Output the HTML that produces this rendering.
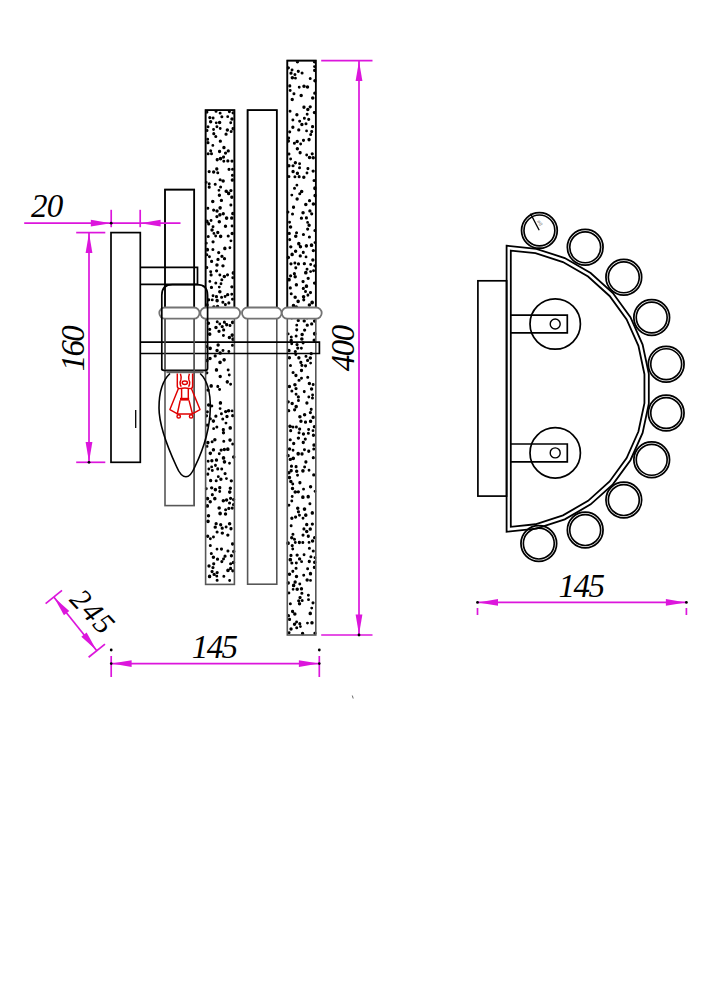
<!DOCTYPE html><html><head><meta charset="utf-8"><style>html,body{margin:0;padding:0;background:#fff;width:707px;height:1000px;overflow:hidden;position:relative}</style></head><body><svg width="707" height="1000" viewBox="0 0 707 1000" style="position:absolute;left:0;top:0">
<rect width="707" height="1000" fill="#fff"/>
<path d="M208.83 418.69a1.53 1.53 0 1 0 3.06 0a1.53 1.53 0 1 0 -3.06 0zM219.56 283.77a1.43 1.43 0 1 0 2.86 0a1.43 1.43 0 1 0 -2.86 0zM218.78 128.54a1.42 1.42 0 1 0 2.85 0a1.42 1.42 0 1 0 -2.85 0zM206.55 153.71a1.57 1.57 0 1 0 3.15 0a1.57 1.57 0 1 0 -3.15 0zM227.45 169.36a1.57 1.57 0 1 0 3.14 0a1.57 1.57 0 1 0 -3.14 0zM222.03 559.07a1.49 1.49 0 1 0 2.98 0a1.49 1.49 0 1 0 -2.98 0zM215.52 572.57a1.63 1.63 0 1 0 3.26 0a1.63 1.63 0 1 0 -3.26 0zM228.48 247.79a1.42 1.42 0 1 0 2.84 0a1.42 1.42 0 1 0 -2.84 0zM207.99 256.71a1.46 1.46 0 1 0 2.92 0a1.46 1.46 0 1 0 -2.92 0zM209.46 385.9a1.73 1.73 0 1 0 3.45 0a1.73 1.73 0 1 0 -3.45 0zM214.82 369.88a1.66 1.66 0 1 0 3.31 0a1.66 1.66 0 1 0 -3.31 0zM206.42 208.22a1.43 1.43 0 1 0 2.85 0a1.43 1.43 0 1 0 -2.85 0zM216.33 259.39a1.67 1.67 0 1 0 3.34 0a1.67 1.67 0 1 0 -3.34 0zM217.07 252.59a1.63 1.63 0 1 0 3.27 0a1.63 1.63 0 1 0 -3.27 0zM223.77 226.26a1.72 1.72 0 1 0 3.44 0a1.72 1.72 0 1 0 -3.44 0zM219.07 524.74a1.63 1.63 0 1 0 3.26 0a1.63 1.63 0 1 0 -3.26 0zM212.46 574.42a1.69 1.69 0 1 0 3.38 0a1.69 1.69 0 1 0 -3.38 0zM216.29 468.93a1.45 1.45 0 1 0 2.89 0a1.45 1.45 0 1 0 -2.89 0zM225.63 381.84a1.67 1.67 0 1 0 3.33 0a1.67 1.67 0 1 0 -3.33 0zM213.11 439.67a1.75 1.75 0 1 0 3.5 0a1.75 1.75 0 1 0 -3.5 0zM220.57 326.59a1.64 1.64 0 1 0 3.28 0a1.64 1.64 0 1 0 -3.28 0zM230.54 335.05a1.74 1.74 0 1 0 3.47 0a1.74 1.74 0 1 0 -3.47 0zM206.21 442.61a1.67 1.67 0 1 0 3.33 0a1.67 1.67 0 1 0 -3.33 0zM231.95 499.57a1.66 1.66 0 1 0 3.32 0a1.66 1.66 0 1 0 -3.32 0zM215.33 427.07a1.51 1.51 0 1 0 3.03 0a1.51 1.51 0 1 0 -3.03 0zM217.53 190.29a1.41 1.41 0 1 0 2.82 0a1.41 1.41 0 1 0 -2.82 0zM206.38 474.17a1.45 1.45 0 1 0 2.89 0a1.45 1.45 0 1 0 -2.89 0zM211.58 295.72a1.45 1.45 0 1 0 2.9 0a1.45 1.45 0 1 0 -2.9 0zM206.68 323.27a1.75 1.75 0 1 0 3.5 0a1.75 1.75 0 1 0 -3.5 0zM228.96 498.32a1.62 1.62 0 1 0 3.24 0a1.62 1.62 0 1 0 -3.24 0zM212.14 307.24a1.75 1.75 0 1 0 3.49 0a1.75 1.75 0 1 0 -3.49 0zM229.06 563.81a1.54 1.54 0 1 0 3.09 0a1.54 1.54 0 1 0 -3.09 0zM209.6 220.52a1.46 1.46 0 1 0 2.92 0a1.46 1.46 0 1 0 -2.92 0zM218.09 389.46a1.49 1.49 0 1 0 2.99 0a1.49 1.49 0 1 0 -2.99 0zM204.81 308.96a1.51 1.51 0 1 0 3.01 0a1.51 1.51 0 1 0 -3.01 0zM220.28 561.62a1.55 1.55 0 1 0 3.1 0a1.55 1.55 0 1 0 -3.1 0zM218.75 402.92a1.68 1.68 0 1 0 3.35 0a1.68 1.68 0 1 0 -3.35 0zM206.02 536.28a1.67 1.67 0 1 0 3.34 0a1.67 1.67 0 1 0 -3.34 0zM228.62 488.19a1.71 1.71 0 1 0 3.42 0a1.71 1.71 0 1 0 -3.42 0zM215.65 159.77a1.56 1.56 0 1 0 3.11 0a1.56 1.56 0 1 0 -3.11 0zM206.26 142.66a1.65 1.65 0 1 0 3.31 0a1.65 1.65 0 1 0 -3.31 0zM209.2 271.65a1.48 1.48 0 1 0 2.97 0a1.48 1.48 0 1 0 -2.97 0zM204.79 182.35a1.42 1.42 0 1 0 2.84 0a1.42 1.42 0 1 0 -2.84 0zM214.8 122.86a1.44 1.44 0 1 0 2.88 0a1.44 1.44 0 1 0 -2.88 0zM221.4 181.06a1.75 1.75 0 1 0 3.5 0a1.75 1.75 0 1 0 -3.5 0zM214.29 283.05a1.5 1.5 0 1 0 3 0a1.5 1.5 0 1 0 -3 0zM228.18 580.54a1.45 1.45 0 1 0 2.9 0a1.45 1.45 0 1 0 -2.9 0zM217.97 151.42a1.59 1.59 0 1 0 3.17 0a1.59 1.59 0 1 0 -3.17 0zM214.22 236.03a1.44 1.44 0 1 0 2.88 0a1.44 1.44 0 1 0 -2.88 0zM208.92 121.72a1.73 1.73 0 1 0 3.46 0a1.73 1.73 0 1 0 -3.46 0zM205.33 360.6a1.62 1.62 0 1 0 3.23 0a1.62 1.62 0 1 0 -3.23 0zM228.24 440.1a1.79 1.79 0 1 0 3.58 0a1.79 1.79 0 1 0 -3.58 0zM219.19 479.29a1.71 1.71 0 1 0 3.42 0a1.71 1.71 0 1 0 -3.42 0zM210.82 494.64a1.53 1.53 0 1 0 3.06 0a1.53 1.53 0 1 0 -3.06 0zM227.94 492.08a1.79 1.79 0 1 0 3.59 0a1.79 1.79 0 1 0 -3.59 0zM224.89 218.05a1.73 1.73 0 1 0 3.45 0a1.73 1.73 0 1 0 -3.45 0zM212.5 233.39a1.41 1.41 0 1 0 2.82 0a1.41 1.41 0 1 0 -2.82 0zM230.92 322.34a1.68 1.68 0 1 0 3.35 0a1.68 1.68 0 1 0 -3.35 0zM231.7 562.52a1.77 1.77 0 1 0 3.55 0a1.77 1.77 0 1 0 -3.55 0zM210.36 405.98a1.48 1.48 0 1 0 2.96 0a1.48 1.48 0 1 0 -2.96 0zM227.64 337.59a1.76 1.76 0 1 0 3.52 0a1.76 1.76 0 1 0 -3.52 0zM226.61 150.9a1.66 1.66 0 1 0 3.32 0a1.66 1.66 0 1 0 -3.32 0zM229.65 480.83a1.66 1.66 0 1 0 3.33 0a1.66 1.66 0 1 0 -3.33 0zM217.69 195.24a1.7 1.7 0 1 0 3.4 0a1.7 1.7 0 1 0 -3.4 0zM213.66 489.59a1.72 1.72 0 1 0 3.43 0a1.72 1.72 0 1 0 -3.43 0zM215.34 300.66a1.79 1.79 0 1 0 3.58 0a1.79 1.79 0 1 0 -3.58 0zM224.43 191.21a1.78 1.78 0 1 0 3.56 0a1.78 1.78 0 1 0 -3.56 0zM208.92 538.8a1.45 1.45 0 1 0 2.9 0a1.45 1.45 0 1 0 -2.9 0zM208.51 501.74a1.72 1.72 0 1 0 3.45 0a1.72 1.72 0 1 0 -3.45 0zM222.55 276.54a1.79 1.79 0 1 0 3.58 0a1.79 1.79 0 1 0 -3.58 0zM208.2 117.54a1.62 1.62 0 1 0 3.24 0a1.62 1.62 0 1 0 -3.24 0zM222.34 359.87a1.79 1.79 0 1 0 3.58 0a1.79 1.79 0 1 0 -3.58 0zM210.29 229.92a1.73 1.73 0 1 0 3.46 0a1.73 1.73 0 1 0 -3.46 0zM216.26 172.8a1.5 1.5 0 1 0 3.01 0a1.5 1.5 0 1 0 -3.01 0zM214.2 327.51a1.76 1.76 0 1 0 3.53 0a1.76 1.76 0 1 0 -3.53 0zM229.53 309.76a1.63 1.63 0 1 0 3.27 0a1.63 1.63 0 1 0 -3.27 0zM218.28 362.35a1.77 1.77 0 1 0 3.53 0a1.77 1.77 0 1 0 -3.53 0zM205.11 318.98a1.61 1.61 0 1 0 3.22 0a1.61 1.61 0 1 0 -3.22 0zM204.84 488.81a1.47 1.47 0 1 0 2.95 0a1.47 1.47 0 1 0 -2.95 0zM217.8 453.82a1.47 1.47 0 1 0 2.94 0a1.47 1.47 0 1 0 -2.94 0zM213.57 355.98a1.62 1.62 0 1 0 3.25 0a1.62 1.62 0 1 0 -3.25 0zM226.22 160.99a1.62 1.62 0 1 0 3.24 0a1.62 1.62 0 1 0 -3.24 0zM211.43 241.78a1.62 1.62 0 1 0 3.25 0a1.62 1.62 0 1 0 -3.25 0zM218.5 376.5a1.71 1.71 0 1 0 3.42 0a1.71 1.71 0 1 0 -3.42 0zM218.51 353.05a1.65 1.65 0 1 0 3.29 0a1.65 1.65 0 1 0 -3.29 0zM230.45 233.59a1.75 1.75 0 1 0 3.5 0a1.75 1.75 0 1 0 -3.5 0zM230.61 508.12a1.62 1.62 0 1 0 3.25 0a1.62 1.62 0 1 0 -3.25 0zM211.41 145.39a1.43 1.43 0 1 0 2.86 0a1.43 1.43 0 1 0 -2.86 0zM226.17 535.09a1.67 1.67 0 1 0 3.34 0a1.67 1.67 0 1 0 -3.34 0zM224.5 423.1a1.46 1.46 0 1 0 2.92 0a1.46 1.46 0 1 0 -2.92 0zM229.11 568.45a1.46 1.46 0 1 0 2.91 0a1.46 1.46 0 1 0 -2.91 0zM231 299.18a1.49 1.49 0 1 0 2.98 0a1.49 1.49 0 1 0 -2.98 0zM231.93 504.55a1.59 1.59 0 1 0 3.19 0a1.59 1.59 0 1 0 -3.19 0zM210.07 261.46a1.54 1.54 0 1 0 3.07 0a1.54 1.54 0 1 0 -3.07 0zM205.05 372.87a1.69 1.69 0 1 0 3.38 0a1.69 1.69 0 1 0 -3.38 0zM205.12 267.6a1.58 1.58 0 1 0 3.15 0a1.58 1.58 0 1 0 -3.15 0zM218.69 141.21a1.65 1.65 0 1 0 3.3 0a1.65 1.65 0 1 0 -3.3 0zM226.16 570.41a1.79 1.79 0 1 0 3.59 0a1.79 1.79 0 1 0 -3.59 0zM212.09 129.53a1.44 1.44 0 1 0 2.88 0a1.44 1.44 0 1 0 -2.88 0zM211.95 172.08a1.71 1.71 0 1 0 3.42 0a1.71 1.71 0 1 0 -3.42 0zM208.82 545.57a1.5 1.5 0 1 0 3.01 0a1.5 1.5 0 1 0 -3.01 0zM223.9 153.12a1.63 1.63 0 1 0 3.26 0a1.63 1.63 0 1 0 -3.26 0zM223.77 311.97a1.42 1.42 0 1 0 2.85 0a1.42 1.42 0 1 0 -2.85 0zM230.67 410.89a1.43 1.43 0 1 0 2.86 0a1.43 1.43 0 1 0 -2.86 0zM206.79 515.8a1.72 1.72 0 1 0 3.44 0a1.72 1.72 0 1 0 -3.44 0zM228.59 325.43a1.43 1.43 0 1 0 2.85 0a1.43 1.43 0 1 0 -2.85 0zM219.93 549.11a1.54 1.54 0 1 0 3.07 0a1.54 1.54 0 1 0 -3.07 0zM207.73 187.17a1.5 1.5 0 1 0 2.99 0a1.5 1.5 0 1 0 -2.99 0zM209.51 274.93a1.6 1.6 0 1 0 3.2 0a1.6 1.6 0 1 0 -3.2 0zM211.71 118.06a1.41 1.41 0 1 0 2.81 0a1.41 1.41 0 1 0 -2.81 0zM219.72 200.41a1.69 1.69 0 1 0 3.39 0a1.69 1.69 0 1 0 -3.39 0zM230.41 161.07a1.59 1.59 0 1 0 3.18 0a1.59 1.59 0 1 0 -3.18 0zM216.4 344.94a1.73 1.73 0 1 0 3.46 0a1.73 1.73 0 1 0 -3.46 0zM215.32 350.46a1.73 1.73 0 1 0 3.47 0a1.73 1.73 0 1 0 -3.47 0zM231.64 272.9a1.68 1.68 0 1 0 3.35 0a1.68 1.68 0 1 0 -3.35 0zM223.97 411.62a1.73 1.73 0 1 0 3.47 0a1.73 1.73 0 1 0 -3.47 0zM214.23 136.53a1.56 1.56 0 1 0 3.12 0a1.56 1.56 0 1 0 -3.12 0zM206.7 461.24a1.45 1.45 0 1 0 2.9 0a1.45 1.45 0 1 0 -2.9 0zM209.2 150.76a1.5 1.5 0 1 0 3 0a1.5 1.5 0 1 0 -3 0zM228.49 427.97a1.74 1.74 0 1 0 3.47 0a1.74 1.74 0 1 0 -3.47 0zM211.37 249.42a1.51 1.51 0 1 0 3.03 0a1.51 1.51 0 1 0 -3.03 0zM231.24 570.85a1.51 1.51 0 1 0 3.01 0a1.51 1.51 0 1 0 -3.01 0zM211.33 567.56a1.62 1.62 0 1 0 3.24 0a1.62 1.62 0 1 0 -3.24 0zM214.52 111.31a1.52 1.52 0 1 0 3.05 0a1.52 1.52 0 1 0 -3.05 0zM218.65 113.14a1.48 1.48 0 1 0 2.96 0a1.48 1.48 0 1 0 -2.96 0zM207.17 299.77a1.51 1.51 0 1 0 3.01 0a1.51 1.51 0 1 0 -3.01 0zM205.4 254.71a1.42 1.42 0 1 0 2.83 0a1.42 1.42 0 1 0 -2.83 0zM222.65 449.46a1.7 1.7 0 1 0 3.4 0a1.7 1.7 0 1 0 -3.4 0zM215.2 265.06a1.75 1.75 0 1 0 3.5 0a1.75 1.75 0 1 0 -3.5 0zM208.53 453.33a1.79 1.79 0 1 0 3.59 0a1.79 1.79 0 1 0 -3.59 0zM205.75 505.89a1.66 1.66 0 1 0 3.31 0a1.66 1.66 0 1 0 -3.31 0zM221.76 457.91a1.76 1.76 0 1 0 3.51 0a1.76 1.76 0 1 0 -3.51 0zM208.32 358.54a1.72 1.72 0 1 0 3.45 0a1.72 1.72 0 1 0 -3.45 0zM220.59 533.11a1.73 1.73 0 1 0 3.46 0a1.73 1.73 0 1 0 -3.46 0zM208.46 281.41a1.41 1.41 0 1 0 2.82 0a1.41 1.41 0 1 0 -2.82 0zM227.83 374.98a1.44 1.44 0 1 0 2.88 0a1.44 1.44 0 1 0 -2.88 0zM221.83 432.75a1.65 1.65 0 1 0 3.3 0a1.65 1.65 0 1 0 -3.3 0zM206.75 236.41a1.5 1.5 0 1 0 3 0a1.5 1.5 0 1 0 -3 0zM210.17 460.74a1.69 1.69 0 1 0 3.38 0a1.69 1.69 0 1 0 -3.38 0zM218.04 291.75a1.79 1.79 0 1 0 3.58 0a1.79 1.79 0 1 0 -3.58 0zM223.48 473.58a1.59 1.59 0 1 0 3.18 0a1.59 1.59 0 1 0 -3.18 0zM222.29 147.44a1.65 1.65 0 1 0 3.29 0a1.65 1.65 0 1 0 -3.29 0zM220.35 116.7a1.52 1.52 0 1 0 3.04 0a1.52 1.52 0 1 0 -3.04 0zM212.19 428.66a1.42 1.42 0 1 0 2.85 0a1.42 1.42 0 1 0 -2.85 0zM223.17 248.38a1.68 1.68 0 1 0 3.35 0a1.68 1.68 0 1 0 -3.35 0zM217.42 331.38a1.61 1.61 0 1 0 3.21 0a1.61 1.61 0 1 0 -3.21 0zM229.42 205.05a1.45 1.45 0 1 0 2.89 0a1.45 1.45 0 1 0 -2.89 0zM230.25 119.08a1.79 1.79 0 1 0 3.58 0a1.79 1.79 0 1 0 -3.58 0zM212.04 210.05a1.58 1.58 0 1 0 3.16 0a1.58 1.58 0 1 0 -3.16 0zM227.38 351.44a1.45 1.45 0 1 0 2.91 0a1.45 1.45 0 1 0 -2.91 0zM217.86 122.55a1.76 1.76 0 1 0 3.52 0a1.76 1.76 0 1 0 -3.52 0zM218.37 324.01a1.4 1.4 0 1 0 2.8 0a1.4 1.4 0 1 0 -2.8 0zM227.86 111.62a1.53 1.53 0 1 0 3.05 0a1.53 1.53 0 1 0 -3.05 0zM214.96 296.64a1.52 1.52 0 1 0 3.03 0a1.52 1.52 0 1 0 -3.03 0zM212.22 133.63a1.57 1.57 0 1 0 3.14 0a1.57 1.57 0 1 0 -3.14 0zM209.84 287.39a1.6 1.6 0 1 0 3.21 0a1.6 1.6 0 1 0 -3.21 0zM229.76 555.75a1.65 1.65 0 1 0 3.3 0a1.65 1.65 0 1 0 -3.3 0zM224.44 134.2a1.62 1.62 0 1 0 3.24 0a1.62 1.62 0 1 0 -3.24 0zM207.94 334.14a1.77 1.77 0 1 0 3.54 0a1.77 1.77 0 1 0 -3.54 0zM211.59 421.09a1.79 1.79 0 1 0 3.58 0a1.79 1.79 0 1 0 -3.58 0zM220.06 297.34a1.52 1.52 0 1 0 3.04 0a1.52 1.52 0 1 0 -3.04 0zM218.16 214.87a1.76 1.76 0 1 0 3.52 0a1.76 1.76 0 1 0 -3.52 0zM210.05 153.71a1.46 1.46 0 1 0 2.91 0a1.46 1.46 0 1 0 -2.91 0zM207.18 223.91a1.54 1.54 0 1 0 3.07 0a1.54 1.54 0 1 0 -3.07 0zM215.89 306.57a1.7 1.7 0 1 0 3.4 0a1.7 1.7 0 1 0 -3.4 0zM214.99 270.77a1.61 1.61 0 1 0 3.22 0a1.61 1.61 0 1 0 -3.22 0zM218.64 408.61a1.45 1.45 0 1 0 2.9 0a1.45 1.45 0 1 0 -2.9 0zM215.73 321.69a1.5 1.5 0 1 0 3 0a1.5 1.5 0 1 0 -3 0zM227.84 523.68a1.78 1.78 0 1 0 3.56 0a1.78 1.78 0 1 0 -3.56 0zM205.68 446.4a1.41 1.41 0 1 0 2.82 0a1.41 1.41 0 1 0 -2.82 0zM215.61 549.19a1.4 1.4 0 1 0 2.8 0a1.4 1.4 0 1 0 -2.8 0zM207.71 183.82a1.5 1.5 0 1 0 3 0a1.5 1.5 0 1 0 -3 0zM223.42 556.13a1.61 1.61 0 1 0 3.22 0a1.61 1.61 0 1 0 -3.22 0zM222.26 441.23a1.5 1.5 0 1 0 3 0a1.5 1.5 0 1 0 -3 0zM215.28 216.55a1.63 1.63 0 1 0 3.27 0a1.63 1.63 0 1 0 -3.27 0zM231.08 415.68a1.58 1.58 0 1 0 3.17 0a1.58 1.58 0 1 0 -3.17 0zM217.56 221.85a1.75 1.75 0 1 0 3.51 0a1.75 1.75 0 1 0 -3.51 0zM231.21 444.1a1.5 1.5 0 1 0 3 0a1.5 1.5 0 1 0 -3 0zM205.28 346.5a1.52 1.52 0 1 0 3.05 0a1.52 1.52 0 1 0 -3.05 0zM216.12 232.48a1.67 1.67 0 1 0 3.34 0a1.67 1.67 0 1 0 -3.34 0zM230.07 218.07a1.67 1.67 0 1 0 3.33 0a1.67 1.67 0 1 0 -3.33 0zM209.99 487.81a1.67 1.67 0 1 0 3.35 0a1.67 1.67 0 1 0 -3.35 0zM218.44 207.87a1.7 1.7 0 1 0 3.39 0a1.7 1.7 0 1 0 -3.39 0zM213.02 498.66a1.79 1.79 0 1 0 3.58 0a1.79 1.79 0 1 0 -3.58 0zM210.82 470.5a1.49 1.49 0 1 0 2.98 0a1.49 1.49 0 1 0 -2.98 0zM230.96 345.3a1.52 1.52 0 1 0 3.04 0a1.52 1.52 0 1 0 -3.04 0zM230.72 180.04a1.67 1.67 0 1 0 3.33 0a1.67 1.67 0 1 0 -3.33 0zM210.52 571.56a1.56 1.56 0 1 0 3.11 0a1.56 1.56 0 1 0 -3.11 0zM206.17 139.24a1.46 1.46 0 1 0 2.91 0a1.46 1.46 0 1 0 -2.91 0zM229.43 528.74a1.56 1.56 0 1 0 3.11 0a1.56 1.56 0 1 0 -3.11 0zM232.04 551.44a1.69 1.69 0 1 0 3.39 0a1.69 1.69 0 1 0 -3.39 0zM209.79 553.47a1.53 1.53 0 1 0 3.06 0a1.53 1.53 0 1 0 -3.06 0zM205.38 425.08a1.7 1.7 0 1 0 3.4 0a1.7 1.7 0 1 0 -3.4 0zM204.81 243.15a1.47 1.47 0 1 0 2.94 0a1.47 1.47 0 1 0 -2.94 0zM231.03 169.31a1.54 1.54 0 1 0 3.08 0a1.54 1.54 0 1 0 -3.08 0zM227.16 315.35a1.73 1.73 0 1 0 3.46 0a1.73 1.73 0 1 0 -3.46 0zM217.85 287.09a1.42 1.42 0 1 0 2.84 0a1.42 1.42 0 1 0 -2.84 0zM205.28 305.11a1.76 1.76 0 1 0 3.52 0a1.76 1.76 0 1 0 -3.52 0zM225.64 130.03a1.72 1.72 0 1 0 3.45 0a1.72 1.72 0 1 0 -3.45 0zM212.18 563.79a1.54 1.54 0 1 0 3.07 0a1.54 1.54 0 1 0 -3.07 0zM211.79 449.77a1.65 1.65 0 1 0 3.29 0a1.65 1.65 0 1 0 -3.29 0zM205.09 221.42a1.78 1.78 0 1 0 3.55 0a1.78 1.78 0 1 0 -3.55 0zM211.57 314.16a1.55 1.55 0 1 0 3.11 0a1.55 1.55 0 1 0 -3.11 0zM230.22 197.33a1.6 1.6 0 1 0 3.19 0a1.6 1.6 0 1 0 -3.19 0zM224.86 499.96a1.72 1.72 0 1 0 3.44 0a1.72 1.72 0 1 0 -3.44 0zM221.25 265.85a1.71 1.71 0 1 0 3.42 0a1.71 1.71 0 1 0 -3.42 0zM214.66 480.8a1.53 1.53 0 1 0 3.06 0a1.53 1.53 0 1 0 -3.06 0zM210.21 466.91a1.43 1.43 0 1 0 2.86 0a1.43 1.43 0 1 0 -2.86 0zM206.49 126.82a1.5 1.5 0 1 0 3 0a1.5 1.5 0 1 0 -3 0zM221.75 429.65a1.57 1.57 0 1 0 3.13 0a1.57 1.57 0 1 0 -3.13 0zM214.87 459.91a1.63 1.63 0 1 0 3.25 0a1.63 1.63 0 1 0 -3.25 0zM211.55 226.85a1.48 1.48 0 1 0 2.96 0a1.48 1.48 0 1 0 -2.96 0zM229.14 384.33a1.46 1.46 0 1 0 2.92 0a1.46 1.46 0 1 0 -2.92 0zM215.6 580.23a1.53 1.53 0 1 0 3.06 0a1.53 1.53 0 1 0 -3.06 0zM227.22 508.38a1.59 1.59 0 1 0 3.18 0a1.59 1.59 0 1 0 -3.18 0zM205.55 249.71a1.77 1.77 0 1 0 3.53 0a1.77 1.77 0 1 0 -3.53 0zM230.24 286.87a1.63 1.63 0 1 0 3.27 0a1.63 1.63 0 1 0 -3.27 0zM221.67 213.75a1.64 1.64 0 1 0 3.28 0a1.64 1.64 0 1 0 -3.28 0zM221.24 419.03a1.5 1.5 0 1 0 3 0a1.5 1.5 0 1 0 -3 0zM226.67 370.03a1.48 1.48 0 1 0 2.96 0a1.48 1.48 0 1 0 -2.96 0zM223.93 304.63a1.47 1.47 0 1 0 2.93 0a1.47 1.47 0 1 0 -2.93 0zM220.31 279.75a1.52 1.52 0 1 0 3.05 0a1.52 1.52 0 1 0 -3.05 0zM227.27 302.94a1.57 1.57 0 1 0 3.14 0a1.57 1.57 0 1 0 -3.14 0zM220.02 413.84a1.41 1.41 0 1 0 2.81 0a1.41 1.41 0 1 0 -2.81 0zM206.89 405.1a1.76 1.76 0 1 0 3.53 0a1.76 1.76 0 1 0 -3.53 0zM218.57 179.8a1.55 1.55 0 1 0 3.1 0a1.55 1.55 0 1 0 -3.1 0zM218.29 491.48a1.44 1.44 0 1 0 2.89 0a1.44 1.44 0 1 0 -2.89 0zM231.35 339.13a1.78 1.78 0 1 0 3.55 0a1.78 1.78 0 1 0 -3.55 0zM230.34 294.27a1.42 1.42 0 1 0 2.84 0a1.42 1.42 0 1 0 -2.84 0zM221.56 500.81a1.76 1.76 0 1 0 3.52 0a1.76 1.76 0 1 0 -3.52 0zM228 503.01a1.56 1.56 0 1 0 3.12 0a1.56 1.56 0 1 0 -3.12 0zM210.75 299.88a1.47 1.47 0 1 0 2.95 0a1.47 1.47 0 1 0 -2.95 0zM215.18 169.01a1.61 1.61 0 1 0 3.21 0a1.61 1.61 0 1 0 -3.21 0zM220.3 469.08a1.42 1.42 0 1 0 2.83 0a1.42 1.42 0 1 0 -2.83 0zM216.27 386.38a1.52 1.52 0 1 0 3.04 0a1.52 1.52 0 1 0 -3.04 0zM222.81 322.13a1.57 1.57 0 1 0 3.14 0a1.57 1.57 0 1 0 -3.14 0zM207.57 171.56a1.59 1.59 0 1 0 3.18 0a1.59 1.59 0 1 0 -3.18 0zM205.72 411.83a1.6 1.6 0 1 0 3.21 0a1.6 1.6 0 1 0 -3.21 0zM225.01 478.62a1.43 1.43 0 1 0 2.87 0a1.43 1.43 0 1 0 -2.87 0zM230.89 175.22a1.55 1.55 0 1 0 3.1 0a1.55 1.55 0 1 0 -3.1 0zM231.95 457.08a1.74 1.74 0 1 0 3.49 0a1.74 1.74 0 1 0 -3.49 0zM231.01 544.09a1.6 1.6 0 1 0 3.19 0a1.6 1.6 0 1 0 -3.19 0zM226.49 550.97a1.47 1.47 0 1 0 2.93 0a1.47 1.47 0 1 0 -2.93 0zM229.48 240.87a1.46 1.46 0 1 0 2.93 0a1.46 1.46 0 1 0 -2.93 0zM208.44 348.35a1.73 1.73 0 1 0 3.45 0a1.73 1.73 0 1 0 -3.45 0zM229.24 190.61a1.67 1.67 0 1 0 3.34 0a1.67 1.67 0 1 0 -3.34 0zM214.48 523.71a1.65 1.65 0 1 0 3.31 0a1.65 1.65 0 1 0 -3.31 0zM220.59 528.24a1.62 1.62 0 1 0 3.24 0a1.62 1.62 0 1 0 -3.24 0zM226.66 236.03a1.56 1.56 0 1 0 3.12 0a1.56 1.56 0 1 0 -3.12 0zM205.84 498.58a1.7 1.7 0 1 0 3.39 0a1.7 1.7 0 1 0 -3.39 0zM222.34 576.26a1.5 1.5 0 1 0 3 0a1.5 1.5 0 1 0 -3 0zM222.88 258.68a1.63 1.63 0 1 0 3.27 0a1.63 1.63 0 1 0 -3.27 0zM205.15 112.04a1.66 1.66 0 1 0 3.32 0a1.66 1.66 0 1 0 -3.32 0zM221.94 335.43a1.48 1.48 0 1 0 2.96 0a1.48 1.48 0 1 0 -2.96 0zM230.6 226.02a1.45 1.45 0 1 0 2.91 0a1.45 1.45 0 1 0 -2.91 0zM205.01 415.86a1.51 1.51 0 1 0 3.01 0a1.51 1.51 0 1 0 -3.01 0zM214.24 416.17a1.62 1.62 0 1 0 3.25 0a1.62 1.62 0 1 0 -3.25 0zM229.64 131.61a1.5 1.5 0 1 0 3 0a1.5 1.5 0 1 0 -3 0zM226.27 116.64a1.42 1.42 0 1 0 2.85 0a1.42 1.42 0 1 0 -2.85 0zM221.5 350.59a1.48 1.48 0 1 0 2.96 0a1.48 1.48 0 1 0 -2.96 0zM226.99 193.4a1.66 1.66 0 1 0 3.31 0a1.66 1.66 0 1 0 -3.31 0zM226.05 449.18a1.76 1.76 0 1 0 3.51 0a1.76 1.76 0 1 0 -3.51 0zM228.1 463.27a1.4 1.4 0 1 0 2.81 0a1.4 1.4 0 1 0 -2.81 0zM225.09 324.83a1.59 1.59 0 1 0 3.17 0a1.59 1.59 0 1 0 -3.17 0zM214.04 465.39a1.42 1.42 0 1 0 2.83 0a1.42 1.42 0 1 0 -2.83 0zM219.98 317.05a1.51 1.51 0 1 0 3.01 0a1.51 1.51 0 1 0 -3.01 0zM218.93 236.29a1.72 1.72 0 1 0 3.43 0a1.72 1.72 0 1 0 -3.43 0zM231.18 213.44a1.66 1.66 0 1 0 3.31 0a1.66 1.66 0 1 0 -3.31 0zM213.52 527.12a1.7 1.7 0 1 0 3.4 0a1.7 1.7 0 1 0 -3.4 0zM217.37 507.98a1.79 1.79 0 1 0 3.58 0a1.79 1.79 0 1 0 -3.58 0zM220.25 256.37a1.69 1.69 0 1 0 3.38 0a1.69 1.69 0 1 0 -3.38 0zM205.54 130.5a1.46 1.46 0 1 0 2.91 0a1.46 1.46 0 1 0 -2.91 0zM206.32 390.09a1.69 1.69 0 1 0 3.39 0a1.69 1.69 0 1 0 -3.39 0zM206.26 521.27a1.76 1.76 0 1 0 3.51 0a1.76 1.76 0 1 0 -3.51 0zM226.87 410.76a1.74 1.74 0 1 0 3.48 0a1.74 1.74 0 1 0 -3.48 0zM207.46 469.03a1.44 1.44 0 1 0 2.88 0a1.44 1.44 0 1 0 -2.88 0zM213.53 311.24a1.48 1.48 0 1 0 2.96 0a1.48 1.48 0 1 0 -2.96 0zM218.32 513.5a1.79 1.79 0 1 0 3.57 0a1.79 1.79 0 1 0 -3.57 0zM225.96 274.83a1.57 1.57 0 1 0 3.15 0a1.57 1.57 0 1 0 -3.15 0zM231.48 112.86a1.7 1.7 0 1 0 3.41 0a1.7 1.7 0 1 0 -3.41 0zM218.17 487.67a1.6 1.6 0 1 0 3.19 0a1.6 1.6 0 1 0 -3.19 0zM218.38 275.02a1.47 1.47 0 1 0 2.95 0a1.47 1.47 0 1 0 -2.95 0zM211.66 557.25a1.73 1.73 0 1 0 3.47 0a1.73 1.73 0 1 0 -3.47 0zM210.61 441.65a1.51 1.51 0 1 0 3.03 0a1.51 1.51 0 1 0 -3.03 0zM215.53 531.96a1.56 1.56 0 1 0 3.12 0a1.56 1.56 0 1 0 -3.12 0zM229.29 122.71a1.43 1.43 0 1 0 2.87 0a1.43 1.43 0 1 0 -2.87 0zM211.98 537.08a1.48 1.48 0 1 0 2.96 0a1.48 1.48 0 1 0 -2.96 0zM225.28 416.5a1.7 1.7 0 1 0 3.4 0a1.7 1.7 0 1 0 -3.4 0zM213.68 184.27a1.54 1.54 0 1 0 3.08 0a1.54 1.54 0 1 0 -3.08 0zM222.74 461.76a1.74 1.74 0 1 0 3.47 0a1.74 1.74 0 1 0 -3.47 0zM216.84 476.63a1.47 1.47 0 1 0 2.94 0a1.47 1.47 0 1 0 -2.94 0zM208.05 329.33a1.63 1.63 0 1 0 3.26 0a1.63 1.63 0 1 0 -3.26 0zM211.01 201.41a1.75 1.75 0 1 0 3.51 0a1.75 1.75 0 1 0 -3.51 0zM224.09 509.85a1.52 1.52 0 1 0 3.04 0a1.52 1.52 0 1 0 -3.04 0zM219.08 186.92a1.53 1.53 0 1 0 3.06 0a1.53 1.53 0 1 0 -3.06 0zM207.32 566.01a1.69 1.69 0 1 0 3.38 0a1.69 1.69 0 1 0 -3.38 0zM215.36 576.15a1.44 1.44 0 1 0 2.88 0a1.44 1.44 0 1 0 -2.88 0zM222.33 161.35a1.48 1.48 0 1 0 2.96 0a1.48 1.48 0 1 0 -2.96 0zM215.44 126.85a1.48 1.48 0 1 0 2.97 0a1.48 1.48 0 1 0 -2.97 0zM222.05 329.93a1.6 1.6 0 1 0 3.2 0a1.6 1.6 0 1 0 -3.2 0zM221.41 302.23a1.46 1.46 0 1 0 2.91 0a1.46 1.46 0 1 0 -2.91 0zM224.64 527.08a1.49 1.49 0 1 0 2.98 0a1.49 1.49 0 1 0 -2.98 0zM223.81 514.01a1.71 1.71 0 1 0 3.42 0a1.71 1.71 0 1 0 -3.42 0zM222.02 157.09a1.53 1.53 0 1 0 3.05 0a1.53 1.53 0 1 0 -3.05 0zM226.02 294.66a1.66 1.66 0 1 0 3.32 0a1.66 1.66 0 1 0 -3.32 0zM231.5 128.84a1.6 1.6 0 1 0 3.19 0a1.6 1.6 0 1 0 -3.19 0zM209.02 480.59a1.62 1.62 0 1 0 3.23 0a1.62 1.62 0 1 0 -3.23 0zM218.75 158.61a1.78 1.78 0 1 0 3.55 0a1.78 1.78 0 1 0 -3.55 0zM219.5 450.08a1.63 1.63 0 1 0 3.26 0a1.63 1.63 0 1 0 -3.26 0zM215.92 559.19a1.61 1.61 0 1 0 3.22 0a1.61 1.61 0 1 0 -3.22 0zM223.6 296.45a1.48 1.48 0 1 0 2.97 0a1.48 1.48 0 1 0 -2.97 0zM207.87 576.45a1.71 1.71 0 1 0 3.41 0a1.71 1.71 0 1 0 -3.41 0zM215.3 211.08a1.72 1.72 0 1 0 3.44 0a1.72 1.72 0 1 0 -3.44 0zM231.31 277.83a1.49 1.49 0 1 0 2.98 0a1.49 1.49 0 1 0 -2.98 0z" fill="#000"/>
<path d="M308.6 529.03a1.66 1.66 0 1 0 3.31 0a1.66 1.66 0 1 0 -3.31 0zM294.35 375.47a1.59 1.59 0 1 0 3.17 0a1.59 1.59 0 1 0 -3.17 0zM309.21 264.54a1.45 1.45 0 1 0 2.9 0a1.45 1.45 0 1 0 -2.9 0zM293.46 276.81a1.74 1.74 0 1 0 3.48 0a1.74 1.74 0 1 0 -3.48 0zM298.03 167.75a1.5 1.5 0 1 0 3 0a1.5 1.5 0 1 0 -3 0zM306.2 222.39a1.4 1.4 0 1 0 2.8 0a1.4 1.4 0 1 0 -2.8 0zM294.64 336.08a1.5 1.5 0 1 0 3 0a1.5 1.5 0 1 0 -3 0zM303.73 439.09a1.57 1.57 0 1 0 3.14 0a1.57 1.57 0 1 0 -3.14 0zM311.71 550.97a1.54 1.54 0 1 0 3.09 0a1.54 1.54 0 1 0 -3.09 0zM309.08 580.41a1.42 1.42 0 1 0 2.85 0a1.42 1.42 0 1 0 -2.85 0zM290.02 537.72a1.71 1.71 0 1 0 3.43 0a1.71 1.71 0 1 0 -3.43 0zM286.66 67.78a1.65 1.65 0 1 0 3.31 0a1.65 1.65 0 1 0 -3.31 0zM304.03 204.52a1.78 1.78 0 1 0 3.56 0a1.78 1.78 0 1 0 -3.56 0zM290.36 195.12a1.44 1.44 0 1 0 2.88 0a1.44 1.44 0 1 0 -2.88 0zM295.65 148.71a1.71 1.71 0 1 0 3.42 0a1.71 1.71 0 1 0 -3.42 0zM307.75 157.45a1.76 1.76 0 1 0 3.52 0a1.76 1.76 0 1 0 -3.52 0zM302.75 509.03a1.76 1.76 0 1 0 3.51 0a1.76 1.76 0 1 0 -3.51 0zM310.64 512.92a1.67 1.67 0 1 0 3.33 0a1.67 1.67 0 1 0 -3.33 0zM291.55 458.31a1.74 1.74 0 1 0 3.47 0a1.74 1.74 0 1 0 -3.47 0zM306.54 312.6a1.61 1.61 0 1 0 3.22 0a1.61 1.61 0 1 0 -3.22 0zM301.3 212.81a1.75 1.75 0 1 0 3.51 0a1.75 1.75 0 1 0 -3.51 0zM290.21 343.83a1.49 1.49 0 1 0 2.99 0a1.49 1.49 0 1 0 -2.99 0zM299.23 143.98a1.42 1.42 0 1 0 2.85 0a1.42 1.42 0 1 0 -2.85 0zM299.9 370.47a1.6 1.6 0 1 0 3.19 0a1.6 1.6 0 1 0 -3.19 0zM286.34 543.13a1.75 1.75 0 1 0 3.49 0a1.75 1.75 0 1 0 -3.49 0zM301.67 442.55a1.59 1.59 0 1 0 3.17 0a1.59 1.59 0 1 0 -3.17 0zM296.4 301.27a1.74 1.74 0 1 0 3.47 0a1.74 1.74 0 1 0 -3.47 0zM288.17 426.35a1.78 1.78 0 1 0 3.57 0a1.78 1.78 0 1 0 -3.57 0zM287.02 410.67a1.65 1.65 0 1 0 3.31 0a1.65 1.65 0 1 0 -3.31 0zM311.66 250.62a1.67 1.67 0 1 0 3.35 0a1.67 1.67 0 1 0 -3.35 0zM300.05 339.02a1.79 1.79 0 1 0 3.59 0a1.79 1.79 0 1 0 -3.59 0zM287.07 472.86a1.76 1.76 0 1 0 3.52 0a1.76 1.76 0 1 0 -3.52 0zM295.49 555.12a1.65 1.65 0 1 0 3.3 0a1.65 1.65 0 1 0 -3.3 0zM299.31 362.44a1.55 1.55 0 1 0 3.09 0a1.55 1.55 0 1 0 -3.09 0zM291.94 310.65a1.71 1.71 0 1 0 3.42 0a1.71 1.71 0 1 0 -3.42 0zM301.46 535.08a1.57 1.57 0 1 0 3.14 0a1.57 1.57 0 1 0 -3.14 0zM308.98 292.62a1.52 1.52 0 1 0 3.03 0a1.52 1.52 0 1 0 -3.03 0zM293.72 351.48a1.6 1.6 0 1 0 3.2 0a1.6 1.6 0 1 0 -3.2 0zM303.98 515.15a1.79 1.79 0 1 0 3.58 0a1.79 1.79 0 1 0 -3.58 0zM295.02 232.71a1.53 1.53 0 1 0 3.06 0a1.53 1.53 0 1 0 -3.06 0zM306.21 568.83a1.42 1.42 0 1 0 2.83 0a1.42 1.42 0 1 0 -2.83 0zM287.64 233.39a1.62 1.62 0 1 0 3.24 0a1.62 1.62 0 1 0 -3.24 0zM291.68 589.36a1.4 1.4 0 1 0 2.8 0a1.4 1.4 0 1 0 -2.8 0zM302.84 414.69a1.76 1.76 0 1 0 3.53 0a1.76 1.76 0 1 0 -3.53 0zM305.26 403a1.65 1.65 0 1 0 3.3 0a1.65 1.65 0 1 0 -3.3 0zM292.03 443.53a1.67 1.67 0 1 0 3.34 0a1.67 1.67 0 1 0 -3.34 0zM307.14 119.3a1.58 1.58 0 1 0 3.17 0a1.58 1.58 0 1 0 -3.17 0zM287.44 505.16a1.47 1.47 0 1 0 2.95 0a1.47 1.47 0 1 0 -2.95 0zM304.04 272.64a1.77 1.77 0 1 0 3.53 0a1.77 1.77 0 1 0 -3.53 0zM307.64 383.4a1.73 1.73 0 1 0 3.46 0a1.73 1.73 0 1 0 -3.46 0zM298.13 429.06a1.53 1.53 0 1 0 3.05 0a1.53 1.53 0 1 0 -3.05 0zM287.62 386.5a1.77 1.77 0 1 0 3.55 0a1.77 1.77 0 1 0 -3.55 0zM289.73 525.68a1.42 1.42 0 1 0 2.83 0a1.42 1.42 0 1 0 -2.83 0zM311.35 317.12a1.63 1.63 0 1 0 3.26 0a1.63 1.63 0 1 0 -3.26 0zM297.06 400.52a1.41 1.41 0 1 0 2.81 0a1.41 1.41 0 1 0 -2.81 0zM312.9 333.73a1.78 1.78 0 1 0 3.55 0a1.78 1.78 0 1 0 -3.55 0zM289.12 430.63a1.56 1.56 0 1 0 3.13 0a1.56 1.56 0 1 0 -3.13 0zM290.56 70.1a1.48 1.48 0 1 0 2.97 0a1.48 1.48 0 1 0 -2.97 0zM305.16 130.94a1.4 1.4 0 1 0 2.8 0a1.4 1.4 0 1 0 -2.8 0zM288.52 559.63a1.79 1.79 0 1 0 3.57 0a1.79 1.79 0 1 0 -3.57 0zM306.43 168.62a1.5 1.5 0 1 0 2.99 0a1.5 1.5 0 1 0 -2.99 0zM307.61 470.21a1.42 1.42 0 1 0 2.84 0a1.42 1.42 0 1 0 -2.84 0zM306.08 109.51a1.74 1.74 0 1 0 3.48 0a1.74 1.74 0 1 0 -3.48 0zM305.61 325.2a1.65 1.65 0 1 0 3.3 0a1.65 1.65 0 1 0 -3.3 0zM293.06 613.95a1.77 1.77 0 1 0 3.55 0a1.77 1.77 0 1 0 -3.55 0zM308.55 106.87a1.66 1.66 0 1 0 3.32 0a1.66 1.66 0 1 0 -3.32 0zM299.43 95.47a1.74 1.74 0 1 0 3.49 0a1.74 1.74 0 1 0 -3.49 0zM302.05 312.68a1.55 1.55 0 1 0 3.09 0a1.55 1.55 0 1 0 -3.09 0zM290.19 518.25a1.67 1.67 0 1 0 3.34 0a1.67 1.67 0 1 0 -3.34 0zM303.96 422.15a1.55 1.55 0 1 0 3.09 0a1.55 1.55 0 1 0 -3.09 0zM296.86 511.87a1.57 1.57 0 1 0 3.13 0a1.57 1.57 0 1 0 -3.13 0zM288.04 619.47a1.52 1.52 0 1 0 3.03 0a1.52 1.52 0 1 0 -3.03 0zM312.94 537.69a1.64 1.64 0 1 0 3.28 0a1.64 1.64 0 1 0 -3.28 0zM294.68 306.85a1.64 1.64 0 1 0 3.28 0a1.64 1.64 0 1 0 -3.28 0zM296.43 453.74a1.76 1.76 0 1 0 3.51 0a1.76 1.76 0 1 0 -3.51 0zM310.72 524.05a1.64 1.64 0 1 0 3.28 0a1.64 1.64 0 1 0 -3.28 0zM286.43 211.98a1.51 1.51 0 1 0 3.03 0a1.51 1.51 0 1 0 -3.03 0zM302.35 528.92a1.57 1.57 0 1 0 3.14 0a1.57 1.57 0 1 0 -3.14 0zM309.85 389.02a1.72 1.72 0 1 0 3.45 0a1.72 1.72 0 1 0 -3.45 0zM311.17 260.02a1.67 1.67 0 1 0 3.35 0a1.67 1.67 0 1 0 -3.35 0zM301.58 518.26a1.43 1.43 0 1 0 2.87 0a1.43 1.43 0 1 0 -2.87 0zM306.9 595.26a1.48 1.48 0 1 0 2.96 0a1.48 1.48 0 1 0 -2.96 0zM302.97 449.64a1.49 1.49 0 1 0 2.99 0a1.49 1.49 0 1 0 -2.99 0zM291.95 207.21a1.59 1.59 0 1 0 3.17 0a1.59 1.59 0 1 0 -3.17 0zM308.48 503.81a1.44 1.44 0 1 0 2.87 0a1.44 1.44 0 1 0 -2.87 0zM302.23 575.32a1.49 1.49 0 1 0 2.99 0a1.49 1.49 0 1 0 -2.99 0zM300.39 334.38a1.75 1.75 0 1 0 3.51 0a1.75 1.75 0 1 0 -3.51 0zM291.43 171.43a1.64 1.64 0 1 0 3.27 0a1.64 1.64 0 1 0 -3.27 0zM305.57 269.17a1.47 1.47 0 1 0 2.94 0a1.47 1.47 0 1 0 -2.94 0zM297.26 357.67a1.63 1.63 0 1 0 3.25 0a1.63 1.63 0 1 0 -3.25 0zM287.66 632.76a1.46 1.46 0 1 0 2.92 0a1.46 1.46 0 1 0 -2.92 0zM290.45 403.52a1.71 1.71 0 1 0 3.43 0a1.71 1.71 0 1 0 -3.43 0zM300.54 72.99a1.54 1.54 0 1 0 3.08 0a1.54 1.54 0 1 0 -3.08 0zM313.52 557.64a1.41 1.41 0 1 0 2.83 0a1.41 1.41 0 1 0 -2.83 0zM297.82 603.73a1.71 1.71 0 1 0 3.42 0a1.71 1.71 0 1 0 -3.42 0zM308.55 613.46a1.71 1.71 0 1 0 3.41 0a1.71 1.71 0 1 0 -3.41 0zM287.43 176.41a1.5 1.5 0 1 0 3 0a1.5 1.5 0 1 0 -3 0zM288.71 90.43a1.47 1.47 0 1 0 2.94 0a1.47 1.47 0 1 0 -2.94 0zM310.05 323.89a1.62 1.62 0 1 0 3.25 0a1.62 1.62 0 1 0 -3.25 0zM310.96 97.99a1.78 1.78 0 1 0 3.56 0a1.78 1.78 0 1 0 -3.56 0zM297.11 129.94a1.64 1.64 0 1 0 3.28 0a1.64 1.64 0 1 0 -3.28 0zM293.14 384.76a1.78 1.78 0 1 0 3.57 0a1.78 1.78 0 1 0 -3.57 0zM312.35 445.08a1.66 1.66 0 1 0 3.31 0a1.66 1.66 0 1 0 -3.31 0zM298.58 152.76a1.56 1.56 0 1 0 3.11 0a1.56 1.56 0 1 0 -3.11 0zM313.19 188.29a1.79 1.79 0 1 0 3.57 0a1.79 1.79 0 1 0 -3.57 0zM293.47 262.97a1.42 1.42 0 1 0 2.83 0a1.42 1.42 0 1 0 -2.83 0zM310.83 541.09a1.76 1.76 0 1 0 3.52 0a1.76 1.76 0 1 0 -3.52 0zM313.14 93.17a1.66 1.66 0 1 0 3.32 0a1.66 1.66 0 1 0 -3.32 0zM307.05 599.65a1.46 1.46 0 1 0 2.92 0a1.46 1.46 0 1 0 -2.92 0zM289.07 246.87a1.7 1.7 0 1 0 3.41 0a1.7 1.7 0 1 0 -3.41 0zM289.79 337.09a1.5 1.5 0 1 0 3.01 0a1.5 1.5 0 1 0 -3.01 0zM292.94 143.25a1.47 1.47 0 1 0 2.93 0a1.47 1.47 0 1 0 -2.93 0zM287.41 592.95a1.48 1.48 0 1 0 2.96 0a1.48 1.48 0 1 0 -2.96 0zM289.96 317.56a1.76 1.76 0 1 0 3.51 0a1.76 1.76 0 1 0 -3.51 0zM298.6 255.96a1.65 1.65 0 1 0 3.3 0a1.65 1.65 0 1 0 -3.3 0zM299.21 421.27a1.73 1.73 0 1 0 3.46 0a1.73 1.73 0 1 0 -3.46 0zM292.49 93.72a1.46 1.46 0 1 0 2.91 0a1.46 1.46 0 1 0 -2.91 0zM293.42 297.23a1.75 1.75 0 1 0 3.5 0a1.75 1.75 0 1 0 -3.5 0zM293.84 542.44a1.46 1.46 0 1 0 2.92 0a1.46 1.46 0 1 0 -2.92 0zM311.03 126.64a1.53 1.53 0 1 0 3.05 0a1.53 1.53 0 1 0 -3.05 0zM287.66 574.24a1.79 1.79 0 1 0 3.58 0a1.79 1.79 0 1 0 -3.58 0zM293.42 176.77a1.51 1.51 0 1 0 3.03 0a1.51 1.51 0 1 0 -3.03 0zM313.41 633.3a1.55 1.55 0 1 0 3.09 0a1.55 1.55 0 1 0 -3.09 0zM288.79 227.1a1.77 1.77 0 1 0 3.54 0a1.77 1.77 0 1 0 -3.54 0zM287.71 477.61a1.76 1.76 0 1 0 3.52 0a1.76 1.76 0 1 0 -3.52 0zM313.1 70.39a1.52 1.52 0 1 0 3.03 0a1.52 1.52 0 1 0 -3.03 0zM295.48 141.53a1.72 1.72 0 1 0 3.45 0a1.72 1.72 0 1 0 -3.45 0zM309.22 363.04a1.4 1.4 0 1 0 2.8 0a1.4 1.4 0 1 0 -2.8 0zM298.31 583.95a1.47 1.47 0 1 0 2.95 0a1.47 1.47 0 1 0 -2.95 0zM302.01 140.34a1.49 1.49 0 1 0 2.97 0a1.49 1.49 0 1 0 -2.97 0zM288.59 111.31a1.48 1.48 0 1 0 2.96 0a1.48 1.48 0 1 0 -2.96 0zM299.78 218.19a1.64 1.64 0 1 0 3.29 0a1.64 1.64 0 1 0 -3.29 0zM303.14 466.89a1.48 1.48 0 1 0 2.96 0a1.48 1.48 0 1 0 -2.96 0zM302.09 177.15a1.72 1.72 0 1 0 3.45 0a1.72 1.72 0 1 0 -3.45 0zM306.48 295.14a1.43 1.43 0 1 0 2.85 0a1.43 1.43 0 1 0 -2.85 0zM309.35 556.73a1.53 1.53 0 1 0 3.07 0a1.53 1.53 0 1 0 -3.07 0zM286.72 582.94a1.6 1.6 0 1 0 3.19 0a1.6 1.6 0 1 0 -3.19 0zM310.12 213.82a1.59 1.59 0 1 0 3.18 0a1.59 1.59 0 1 0 -3.18 0zM309.13 271.62a1.47 1.47 0 1 0 2.95 0a1.47 1.47 0 1 0 -2.95 0zM300.69 316.71a1.4 1.4 0 1 0 2.8 0a1.4 1.4 0 1 0 -2.8 0zM289.59 470.8a1.61 1.61 0 1 0 3.21 0a1.61 1.61 0 1 0 -3.21 0zM309.8 245.19a1.73 1.73 0 1 0 3.45 0a1.73 1.73 0 1 0 -3.45 0zM296.63 491.85a1.68 1.68 0 1 0 3.37 0a1.68 1.68 0 1 0 -3.37 0zM310.3 608.06a1.42 1.42 0 1 0 2.85 0a1.42 1.42 0 1 0 -2.85 0zM300.32 365.29a1.6 1.6 0 1 0 3.2 0a1.6 1.6 0 1 0 -3.2 0zM286.85 615.73a1.61 1.61 0 1 0 3.23 0a1.61 1.61 0 1 0 -3.23 0zM291.39 120.05a1.49 1.49 0 1 0 2.98 0a1.49 1.49 0 1 0 -2.98 0zM308.71 78.44a1.5 1.5 0 1 0 3 0a1.5 1.5 0 1 0 -3 0zM305.54 173.02a1.44 1.44 0 1 0 2.88 0a1.44 1.44 0 1 0 -2.88 0zM302.86 391.64a1.41 1.41 0 1 0 2.81 0a1.41 1.41 0 1 0 -2.81 0zM305.73 87.09a1.75 1.75 0 1 0 3.5 0a1.75 1.75 0 1 0 -3.5 0zM299.93 348.23a1.45 1.45 0 1 0 2.9 0a1.45 1.45 0 1 0 -2.9 0zM289.72 293.72a1.51 1.51 0 1 0 3.02 0a1.51 1.51 0 1 0 -3.02 0zM302.6 554.78a1.45 1.45 0 1 0 2.91 0a1.45 1.45 0 1 0 -2.91 0zM302.08 489.14a1.46 1.46 0 1 0 2.92 0a1.46 1.46 0 1 0 -2.92 0zM297.82 542.53a1.56 1.56 0 1 0 3.11 0a1.56 1.56 0 1 0 -3.11 0zM297.09 600.75a1.61 1.61 0 1 0 3.22 0a1.61 1.61 0 1 0 -3.22 0zM295.43 198.98a1.71 1.71 0 1 0 3.42 0a1.71 1.71 0 1 0 -3.42 0zM298.26 623.64a1.53 1.53 0 1 0 3.07 0a1.53 1.53 0 1 0 -3.07 0zM287.62 357.76a1.74 1.74 0 1 0 3.48 0a1.74 1.74 0 1 0 -3.48 0zM311.62 204.09a1.78 1.78 0 1 0 3.57 0a1.78 1.78 0 1 0 -3.57 0zM288.18 309.42a1.61 1.61 0 1 0 3.22 0a1.61 1.61 0 1 0 -3.22 0zM286.87 141.11a1.6 1.6 0 1 0 3.2 0a1.6 1.6 0 1 0 -3.2 0zM304.92 217.93a1.51 1.51 0 1 0 3.01 0a1.51 1.51 0 1 0 -3.01 0zM311.52 417.3a1.62 1.62 0 1 0 3.23 0a1.62 1.62 0 1 0 -3.23 0zM300.6 309.79a1.5 1.5 0 1 0 3 0a1.5 1.5 0 1 0 -3 0zM293.97 236.26a1.78 1.78 0 1 0 3.56 0a1.78 1.78 0 1 0 -3.56 0zM301.38 542.54a1.44 1.44 0 1 0 2.87 0a1.44 1.44 0 1 0 -2.87 0zM301.82 433.98a1.64 1.64 0 1 0 3.29 0a1.64 1.64 0 1 0 -3.29 0zM303.01 330.01a1.62 1.62 0 1 0 3.24 0a1.62 1.62 0 1 0 -3.24 0zM292.99 188.21a1.52 1.52 0 1 0 3.05 0a1.52 1.52 0 1 0 -3.05 0zM296.76 396.91a1.6 1.6 0 1 0 3.21 0a1.6 1.6 0 1 0 -3.21 0zM301.6 342.87a1.5 1.5 0 1 0 2.99 0a1.5 1.5 0 1 0 -2.99 0zM313.35 230.58a1.51 1.51 0 1 0 3.03 0a1.51 1.51 0 1 0 -3.03 0zM290.52 99.49a1.71 1.71 0 1 0 3.42 0a1.71 1.71 0 1 0 -3.42 0zM298.35 482.74a1.56 1.56 0 1 0 3.11 0a1.56 1.56 0 1 0 -3.11 0zM290.42 254.38a1.7 1.7 0 1 0 3.39 0a1.7 1.7 0 1 0 -3.39 0zM308.58 357.98a1.74 1.74 0 1 0 3.48 0a1.74 1.74 0 1 0 -3.48 0zM306.5 496.66a1.7 1.7 0 1 0 3.39 0a1.7 1.7 0 1 0 -3.39 0zM307.4 397a1.4 1.4 0 1 0 2.8 0a1.4 1.4 0 1 0 -2.8 0zM307.73 561.47a1.57 1.57 0 1 0 3.13 0a1.57 1.57 0 1 0 -3.13 0zM296.62 320.45a1.64 1.64 0 1 0 3.29 0a1.64 1.64 0 1 0 -3.29 0zM306.06 229.1a1.58 1.58 0 1 0 3.17 0a1.58 1.58 0 1 0 -3.17 0zM301.5 281.6a1.56 1.56 0 1 0 3.11 0a1.56 1.56 0 1 0 -3.11 0zM307.86 548.17a1.53 1.53 0 1 0 3.06 0a1.53 1.53 0 1 0 -3.06 0zM290.34 391.04a1.52 1.52 0 1 0 3.04 0a1.52 1.52 0 1 0 -3.04 0zM291.69 305.64a1.78 1.78 0 1 0 3.57 0a1.78 1.78 0 1 0 -3.57 0zM299.85 588.72a1.63 1.63 0 1 0 3.25 0a1.63 1.63 0 1 0 -3.25 0zM300.89 633.44a1.71 1.71 0 1 0 3.42 0a1.71 1.71 0 1 0 -3.42 0zM300.41 453.97a1.61 1.61 0 1 0 3.21 0a1.61 1.61 0 1 0 -3.21 0zM312.24 448.96a1.54 1.54 0 1 0 3.08 0a1.54 1.54 0 1 0 -3.08 0zM288.99 275.82a1.61 1.61 0 1 0 3.22 0a1.61 1.61 0 1 0 -3.22 0zM312.48 340.18a1.75 1.75 0 1 0 3.5 0a1.75 1.75 0 1 0 -3.5 0zM295.12 622.03a1.47 1.47 0 1 0 2.94 0a1.47 1.47 0 1 0 -2.94 0zM300.16 124.55a1.73 1.73 0 1 0 3.46 0a1.73 1.73 0 1 0 -3.46 0zM304.98 531.54a1.76 1.76 0 1 0 3.52 0a1.76 1.76 0 1 0 -3.52 0zM310.35 302.45a1.8 1.8 0 1 0 3.59 0a1.8 1.8 0 1 0 -3.59 0zM294.35 354.45a1.46 1.46 0 1 0 2.93 0a1.46 1.46 0 1 0 -2.93 0zM291.43 165.76a1.6 1.6 0 1 0 3.2 0a1.6 1.6 0 1 0 -3.2 0zM302.71 263.65a1.65 1.65 0 1 0 3.3 0a1.65 1.65 0 1 0 -3.3 0zM307.84 237.02a1.56 1.56 0 1 0 3.13 0a1.56 1.56 0 1 0 -3.13 0zM300.01 378.32a1.48 1.48 0 1 0 2.96 0a1.48 1.48 0 1 0 -2.96 0zM304.05 365.85a1.51 1.51 0 1 0 3.01 0a1.51 1.51 0 1 0 -3.01 0zM301.78 296.84a1.8 1.8 0 1 0 3.6 0a1.8 1.8 0 1 0 -3.6 0zM290.73 496.54a1.45 1.45 0 1 0 2.9 0a1.45 1.45 0 1 0 -2.9 0zM289.19 158.95a1.44 1.44 0 1 0 2.89 0a1.44 1.44 0 1 0 -2.89 0zM308.76 412.57a1.61 1.61 0 1 0 3.22 0a1.61 1.61 0 1 0 -3.22 0zM295 471.3a1.71 1.71 0 1 0 3.42 0a1.71 1.71 0 1 0 -3.42 0zM290.98 214.02a1.54 1.54 0 1 0 3.08 0a1.54 1.54 0 1 0 -3.08 0zM311.14 394.95a1.44 1.44 0 1 0 2.88 0a1.44 1.44 0 1 0 -2.88 0zM298.12 416.69a1.78 1.78 0 1 0 3.57 0a1.78 1.78 0 1 0 -3.57 0zM294.75 576.43a1.74 1.74 0 1 0 3.48 0a1.74 1.74 0 1 0 -3.48 0zM294.46 406.58a1.73 1.73 0 1 0 3.45 0a1.73 1.73 0 1 0 -3.45 0zM294.85 562.93a1.49 1.49 0 1 0 2.98 0a1.49 1.49 0 1 0 -2.98 0zM307.95 200.71a1.59 1.59 0 1 0 3.19 0a1.59 1.59 0 1 0 -3.19 0zM288.13 131.87a1.56 1.56 0 1 0 3.12 0a1.56 1.56 0 1 0 -3.12 0zM304.62 256.9a1.41 1.41 0 1 0 2.83 0a1.41 1.41 0 1 0 -2.83 0zM305.71 114.3a1.46 1.46 0 1 0 2.92 0a1.46 1.46 0 1 0 -2.92 0zM309.19 134.45a1.51 1.51 0 1 0 3.02 0a1.51 1.51 0 1 0 -3.02 0zM296.07 475.32a1.46 1.46 0 1 0 2.93 0a1.46 1.46 0 1 0 -2.93 0zM312.51 180.46a1.55 1.55 0 1 0 3.1 0a1.55 1.55 0 1 0 -3.1 0zM299.9 191.47a1.78 1.78 0 1 0 3.56 0a1.78 1.78 0 1 0 -3.56 0zM289.89 466.15a1.58 1.58 0 1 0 3.16 0a1.58 1.58 0 1 0 -3.16 0zM310.96 397.99a1.5 1.5 0 1 0 3.01 0a1.5 1.5 0 1 0 -3.01 0zM293.08 409.82a1.55 1.55 0 1 0 3.09 0a1.55 1.55 0 1 0 -3.09 0zM310.23 131.58a1.49 1.49 0 1 0 2.97 0a1.49 1.49 0 1 0 -2.97 0zM296.7 438.09a1.71 1.71 0 1 0 3.42 0a1.71 1.71 0 1 0 -3.42 0zM294.76 284.71a1.63 1.63 0 1 0 3.25 0a1.63 1.63 0 1 0 -3.25 0zM291.3 548.99a1.43 1.43 0 1 0 2.87 0a1.43 1.43 0 1 0 -2.87 0zM304.46 123.66a1.53 1.53 0 1 0 3.06 0a1.53 1.53 0 1 0 -3.06 0zM296.14 348.01a1.62 1.62 0 1 0 3.25 0a1.62 1.62 0 1 0 -3.25 0zM288.18 239.62a1.52 1.52 0 1 0 3.04 0a1.52 1.52 0 1 0 -3.04 0zM294 78.15a1.45 1.45 0 1 0 2.91 0a1.45 1.45 0 1 0 -2.91 0zM304.33 462.01a1.57 1.57 0 1 0 3.13 0a1.57 1.57 0 1 0 -3.13 0zM291.21 127.25a1.65 1.65 0 1 0 3.3 0a1.65 1.65 0 1 0 -3.3 0zM287.58 154.07a1.42 1.42 0 1 0 2.83 0a1.42 1.42 0 1 0 -2.83 0zM294.97 427.08a1.42 1.42 0 1 0 2.83 0a1.42 1.42 0 1 0 -2.83 0zM295.76 61.76a1.67 1.67 0 1 0 3.35 0a1.67 1.67 0 1 0 -3.35 0zM307.36 225.33a1.73 1.73 0 1 0 3.47 0a1.73 1.73 0 1 0 -3.47 0zM309.8 409.35a1.42 1.42 0 1 0 2.83 0a1.42 1.42 0 1 0 -2.83 0zM291.92 585.38a1.72 1.72 0 1 0 3.43 0a1.72 1.72 0 1 0 -3.43 0zM288.55 459.39a1.7 1.7 0 1 0 3.4 0a1.7 1.7 0 1 0 -3.4 0zM306.75 536.24a1.56 1.56 0 1 0 3.11 0a1.56 1.56 0 1 0 -3.11 0zM288.84 603.65a1.51 1.51 0 1 0 3.02 0a1.51 1.51 0 1 0 -3.02 0zM311.73 457.64a1.57 1.57 0 1 0 3.14 0a1.57 1.57 0 1 0 -3.14 0zM308.86 421.23a1.7 1.7 0 1 0 3.39 0a1.7 1.7 0 1 0 -3.39 0zM300.3 593.2a1.57 1.57 0 1 0 3.14 0a1.57 1.57 0 1 0 -3.14 0zM308.22 210.92a1.68 1.68 0 1 0 3.36 0a1.68 1.68 0 1 0 -3.36 0zM312.75 426.62a1.62 1.62 0 1 0 3.24 0a1.62 1.62 0 1 0 -3.24 0zM297.59 176.65a1.54 1.54 0 1 0 3.09 0a1.54 1.54 0 1 0 -3.09 0zM298.44 597.63a1.61 1.61 0 1 0 3.21 0a1.61 1.61 0 1 0 -3.21 0zM294.53 568.3a1.54 1.54 0 1 0 3.08 0a1.54 1.54 0 1 0 -3.08 0zM301.82 252.4a1.46 1.46 0 1 0 2.91 0a1.46 1.46 0 1 0 -2.91 0zM301.14 497.13a1.73 1.73 0 1 0 3.45 0a1.73 1.73 0 1 0 -3.45 0zM294.35 267.83a1.45 1.45 0 1 0 2.89 0a1.45 1.45 0 1 0 -2.89 0zM288.06 222.2a1.48 1.48 0 1 0 2.97 0a1.48 1.48 0 1 0 -2.97 0zM305.58 318a1.48 1.48 0 1 0 2.96 0a1.48 1.48 0 1 0 -2.96 0zM295.31 329.84a1.45 1.45 0 1 0 2.89 0a1.45 1.45 0 1 0 -2.89 0zM313.58 491.36a1.4 1.4 0 1 0 2.81 0a1.4 1.4 0 1 0 -2.81 0zM306.04 623.06a1.43 1.43 0 1 0 2.87 0a1.43 1.43 0 1 0 -2.87 0zM291.51 372.49a1.57 1.57 0 1 0 3.15 0a1.57 1.57 0 1 0 -3.15 0zM311.6 430.63a1.4 1.4 0 1 0 2.81 0a1.4 1.4 0 1 0 -2.81 0zM311.78 435.27a1.65 1.65 0 1 0 3.3 0a1.65 1.65 0 1 0 -3.3 0zM307.63 542.45a1.41 1.41 0 1 0 2.82 0a1.41 1.41 0 1 0 -2.82 0zM291.45 426.96a1.52 1.52 0 1 0 3.04 0a1.52 1.52 0 1 0 -3.04 0zM311.46 157.76a1.74 1.74 0 1 0 3.48 0a1.74 1.74 0 1 0 -3.48 0zM308.86 486.7a1.71 1.71 0 1 0 3.43 0a1.71 1.71 0 1 0 -3.43 0zM291.41 534.28a1.53 1.53 0 1 0 3.06 0a1.53 1.53 0 1 0 -3.06 0zM305.43 580.06a1.73 1.73 0 1 0 3.46 0a1.73 1.73 0 1 0 -3.46 0zM294.62 394.3a1.46 1.46 0 1 0 2.93 0a1.46 1.46 0 1 0 -2.93 0zM305.25 155a1.43 1.43 0 1 0 2.86 0a1.43 1.43 0 1 0 -2.86 0zM312.8 112.59a1.58 1.58 0 1 0 3.15 0a1.58 1.58 0 1 0 -3.15 0zM307.64 305.06a1.74 1.74 0 1 0 3.48 0a1.74 1.74 0 1 0 -3.48 0zM304.45 356.18a1.51 1.51 0 1 0 3.03 0a1.51 1.51 0 1 0 -3.03 0zM295.58 312.66a1.57 1.57 0 1 0 3.14 0a1.57 1.57 0 1 0 -3.14 0zM295.78 173.21a1.63 1.63 0 1 0 3.25 0a1.63 1.63 0 1 0 -3.25 0zM295.3 325.14a1.43 1.43 0 1 0 2.87 0a1.43 1.43 0 1 0 -2.87 0zM287.81 448.94a1.72 1.72 0 1 0 3.45 0a1.72 1.72 0 1 0 -3.45 0zM294.37 388.57a1.64 1.64 0 1 0 3.29 0a1.64 1.64 0 1 0 -3.29 0zM291.64 450.22a1.41 1.41 0 1 0 2.82 0a1.41 1.41 0 1 0 -2.82 0zM288.65 439.79a1.58 1.58 0 1 0 3.16 0a1.58 1.58 0 1 0 -3.16 0zM302.21 299.87a1.55 1.55 0 1 0 3.1 0a1.55 1.55 0 1 0 -3.1 0zM301.71 288.38a1.61 1.61 0 1 0 3.22 0a1.61 1.61 0 1 0 -3.22 0zM291.38 571.34a1.45 1.45 0 1 0 2.89 0a1.45 1.45 0 1 0 -2.89 0zM289.35 555.4a1.62 1.62 0 1 0 3.24 0a1.62 1.62 0 1 0 -3.24 0zM288.99 365.44a1.5 1.5 0 1 0 3 0a1.5 1.5 0 1 0 -3 0zM302.36 107.19a1.61 1.61 0 1 0 3.21 0a1.61 1.61 0 1 0 -3.21 0zM288.34 313.14a1.56 1.56 0 1 0 3.13 0a1.56 1.56 0 1 0 -3.13 0zM301.18 470.81a1.75 1.75 0 1 0 3.49 0a1.75 1.75 0 1 0 -3.49 0zM289.33 629.04a1.7 1.7 0 1 0 3.41 0a1.7 1.7 0 1 0 -3.41 0zM291.02 611.49a1.56 1.56 0 1 0 3.11 0a1.56 1.56 0 1 0 -3.11 0zM307.43 139.62a1.63 1.63 0 1 0 3.25 0a1.63 1.63 0 1 0 -3.25 0zM286.77 401.86a1.55 1.55 0 1 0 3.1 0a1.55 1.55 0 1 0 -3.1 0zM294.6 466.7a1.49 1.49 0 1 0 2.97 0a1.49 1.49 0 1 0 -2.97 0zM290.74 488.48a1.75 1.75 0 1 0 3.5 0a1.75 1.75 0 1 0 -3.5 0zM307.21 451.27a1.54 1.54 0 1 0 3.07 0a1.54 1.54 0 1 0 -3.07 0zM312.09 474.92a1.69 1.69 0 1 0 3.39 0a1.69 1.69 0 1 0 -3.39 0zM302.97 118.32a1.42 1.42 0 1 0 2.83 0a1.42 1.42 0 1 0 -2.83 0zM289.37 73.21a1.63 1.63 0 1 0 3.27 0a1.63 1.63 0 1 0 -3.27 0zM290.29 562.98a1.55 1.55 0 1 0 3.1 0a1.55 1.55 0 1 0 -3.1 0zM305.11 524.45a1.62 1.62 0 1 0 3.23 0a1.62 1.62 0 1 0 -3.23 0zM286.5 257.45a1.78 1.78 0 1 0 3.56 0a1.78 1.78 0 1 0 -3.56 0zM300.14 561.64a1.46 1.46 0 1 0 2.92 0a1.46 1.46 0 1 0 -2.92 0zM287.15 165.69a1.72 1.72 0 1 0 3.44 0a1.72 1.72 0 1 0 -3.44 0zM304.72 286.22a1.73 1.73 0 1 0 3.45 0a1.73 1.73 0 1 0 -3.45 0zM290.63 545.62a1.59 1.59 0 1 0 3.18 0a1.59 1.59 0 1 0 -3.18 0zM295.46 185.19a1.43 1.43 0 1 0 2.86 0a1.43 1.43 0 1 0 -2.86 0zM302.23 86.22a1.76 1.76 0 1 0 3.52 0a1.76 1.76 0 1 0 -3.52 0zM296.86 263.93a1.63 1.63 0 1 0 3.26 0a1.63 1.63 0 1 0 -3.26 0zM299.03 626.6a1.41 1.41 0 1 0 2.82 0a1.41 1.41 0 1 0 -2.82 0zM313.2 80.75a1.78 1.78 0 1 0 3.57 0a1.78 1.78 0 1 0 -3.57 0zM294.04 517.07a1.55 1.55 0 1 0 3.09 0a1.55 1.55 0 1 0 -3.09 0zM295.19 627.76a1.53 1.53 0 1 0 3.07 0a1.53 1.53 0 1 0 -3.07 0zM301.85 234.54a1.58 1.58 0 1 0 3.16 0a1.58 1.58 0 1 0 -3.16 0zM306.21 377.19a1.52 1.52 0 1 0 3.05 0a1.52 1.52 0 1 0 -3.05 0zM295.42 589.25a1.77 1.77 0 1 0 3.55 0a1.77 1.77 0 1 0 -3.55 0zM313.23 265.82a1.63 1.63 0 1 0 3.26 0a1.63 1.63 0 1 0 -3.26 0zM297.88 558.91a1.71 1.71 0 1 0 3.42 0a1.71 1.71 0 1 0 -3.42 0zM293.42 74.42a1.51 1.51 0 1 0 3.02 0a1.51 1.51 0 1 0 -3.02 0zM306.83 433.17a1.53 1.53 0 1 0 3.06 0a1.53 1.53 0 1 0 -3.06 0zM297.79 87.26a1.42 1.42 0 1 0 2.85 0a1.42 1.42 0 1 0 -2.85 0zM295.38 344.57a1.65 1.65 0 1 0 3.3 0a1.65 1.65 0 1 0 -3.3 0zM311.75 384.56a1.41 1.41 0 1 0 2.81 0a1.41 1.41 0 1 0 -2.81 0zM295.2 114.76a1.69 1.69 0 1 0 3.38 0a1.69 1.69 0 1 0 -3.38 0zM290.33 500.95a1.46 1.46 0 1 0 2.92 0a1.46 1.46 0 1 0 -2.92 0zM312.87 320.95a1.71 1.71 0 1 0 3.42 0a1.71 1.71 0 1 0 -3.42 0zM300.68 600.55a1.51 1.51 0 1 0 3.02 0a1.51 1.51 0 1 0 -3.02 0zM286.69 333.91a1.45 1.45 0 1 0 2.91 0a1.45 1.45 0 1 0 -2.91 0zM287.23 138.09a1.44 1.44 0 1 0 2.87 0a1.44 1.44 0 1 0 -2.87 0zM312.08 270.77a1.47 1.47 0 1 0 2.95 0a1.47 1.47 0 1 0 -2.95 0zM291.28 484.08a1.46 1.46 0 1 0 2.92 0a1.46 1.46 0 1 0 -2.92 0zM290.56 77.85a1.77 1.77 0 1 0 3.54 0a1.77 1.77 0 1 0 -3.54 0zM292.81 624.27a1.71 1.71 0 1 0 3.42 0a1.71 1.71 0 1 0 -3.42 0zM298.74 246.82a1.72 1.72 0 1 0 3.44 0a1.72 1.72 0 1 0 -3.44 0zM289.08 481.58a1.76 1.76 0 1 0 3.52 0a1.76 1.76 0 1 0 -3.52 0zM304.09 291.54a1.43 1.43 0 1 0 2.85 0a1.43 1.43 0 1 0 -2.85 0zM311.43 602.85a1.56 1.56 0 1 0 3.13 0a1.56 1.56 0 1 0 -3.13 0zM298.24 193.83a1.5 1.5 0 1 0 3.01 0a1.5 1.5 0 1 0 -3.01 0zM307.14 429.6a1.48 1.48 0 1 0 2.96 0a1.48 1.48 0 1 0 -2.96 0zM293.45 491.98a1.75 1.75 0 1 0 3.5 0a1.75 1.75 0 1 0 -3.5 0zM293.88 251.23a1.73 1.73 0 1 0 3.46 0a1.73 1.73 0 1 0 -3.46 0zM310.63 153.83a1.59 1.59 0 1 0 3.19 0a1.59 1.59 0 1 0 -3.19 0zM302.54 320.89a1.67 1.67 0 1 0 3.35 0a1.67 1.67 0 1 0 -3.35 0zM295.98 508.19a1.75 1.75 0 1 0 3.51 0a1.75 1.75 0 1 0 -3.51 0zM313.05 66.6a1.44 1.44 0 1 0 2.89 0a1.44 1.44 0 1 0 -2.89 0zM310.29 622.74a1.69 1.69 0 1 0 3.37 0a1.69 1.69 0 1 0 -3.37 0zM287.26 350.54a1.68 1.68 0 1 0 3.35 0a1.68 1.68 0 1 0 -3.35 0zM298.16 121.31a1.49 1.49 0 1 0 2.99 0a1.49 1.49 0 1 0 -2.99 0zM313.54 242.61a1.41 1.41 0 1 0 2.82 0a1.41 1.41 0 1 0 -2.82 0zM289.44 340.55a1.75 1.75 0 1 0 3.5 0a1.75 1.75 0 1 0 -3.5 0zM298.14 163.79a1.45 1.45 0 1 0 2.91 0a1.45 1.45 0 1 0 -2.91 0zM289.37 263.87a1.6 1.6 0 1 0 3.2 0a1.6 1.6 0 1 0 -3.2 0zM312.83 567.42a1.49 1.49 0 1 0 2.97 0a1.49 1.49 0 1 0 -2.97 0zM293.66 162.78a1.69 1.69 0 1 0 3.39 0a1.69 1.69 0 1 0 -3.39 0zM288.28 85.96a1.51 1.51 0 1 0 3.01 0a1.51 1.51 0 1 0 -3.01 0zM297.44 380.25a1.6 1.6 0 1 0 3.21 0a1.6 1.6 0 1 0 -3.21 0zM286.64 455.64a1.55 1.55 0 1 0 3.09 0a1.55 1.55 0 1 0 -3.09 0zM313.04 562.22a1.68 1.68 0 1 0 3.35 0a1.68 1.68 0 1 0 -3.35 0zM297.11 243.63a1.69 1.69 0 1 0 3.37 0a1.69 1.69 0 1 0 -3.37 0zM312.89 283.07a1.57 1.57 0 1 0 3.14 0a1.57 1.57 0 1 0 -3.14 0zM312.9 61.73a1.53 1.53 0 1 0 3.05 0a1.53 1.53 0 1 0 -3.05 0zM309.5 353.61a1.7 1.7 0 1 0 3.4 0a1.7 1.7 0 1 0 -3.4 0zM313.42 195.58a1.64 1.64 0 1 0 3.27 0a1.64 1.64 0 1 0 -3.27 0zM306.54 278.35a1.65 1.65 0 1 0 3.3 0a1.65 1.65 0 1 0 -3.3 0zM304.74 245.85a1.65 1.65 0 1 0 3.29 0a1.65 1.65 0 1 0 -3.29 0zM293.49 582.09a1.65 1.65 0 1 0 3.29 0a1.65 1.65 0 1 0 -3.29 0zM306.01 360.44a1.59 1.59 0 1 0 3.18 0a1.59 1.59 0 1 0 -3.18 0zM308.83 573.65a1.66 1.66 0 1 0 3.31 0a1.66 1.66 0 1 0 -3.31 0zM287.33 279.74a1.75 1.75 0 1 0 3.49 0a1.75 1.75 0 1 0 -3.49 0zM288.72 287.93a1.58 1.58 0 1 0 3.16 0a1.58 1.58 0 1 0 -3.16 0zM292.78 273.73a1.61 1.61 0 1 0 3.22 0a1.61 1.61 0 1 0 -3.22 0zM296.77 71.38a1.54 1.54 0 1 0 3.07 0a1.54 1.54 0 1 0 -3.07 0zM292.97 539.33a1.53 1.53 0 1 0 3.06 0a1.53 1.53 0 1 0 -3.06 0zM297.97 515.35a1.48 1.48 0 1 0 2.96 0a1.48 1.48 0 1 0 -2.96 0zM297.52 432.74a1.52 1.52 0 1 0 3.04 0a1.52 1.52 0 1 0 -3.04 0zM311.52 171.03a1.63 1.63 0 1 0 3.26 0a1.63 1.63 0 1 0 -3.26 0z" fill="#000"/>
<rect x="205.6" y="110.2" width="28.8" height="474.2" stroke="#575757" stroke-width="1.6" fill="none"/>
<path d="M205.6 308 V110.2 H234.4 V308" stroke="#000" stroke-width="1.7" fill="none"/>
<rect x="247.6" y="110.2" width="29.2" height="474" stroke="#575757" stroke-width="1.6" fill="none"/>
<path d="M247.6 308 V110.2 H276.8 V308" stroke="#000" stroke-width="1.7" fill="none"/>
<rect x="287.3" y="60.6" width="28.5" height="574.4" stroke="#575757" stroke-width="1.6" fill="none"/>
<path d="M287.3 308 V60.6 H315.8 V308" stroke="#000" stroke-width="1.7" fill="none"/>
<rect x="165" y="189.6" width="29.2" height="316" stroke="#575757" stroke-width="1.6" fill="none"/>
<path d="M165 308 V189.6 H194.2 V308" stroke="#000" stroke-width="1.7" fill="none"/>
<rect x="111" y="232.6" width="29.3" height="229.7" stroke="#000" stroke-width="1.7" fill="none"/>
<line x1="135.7" y1="410" x2="135.7" y2="428" stroke="#000" stroke-width="1.3" />
<path d="M140.3 267.4 H197.5 V284.4 H140.3" stroke="#000" stroke-width="1.7" fill="none"/>
<path d="M140.3 342.1 H319.4 V353.5 H140.3" stroke="#000" stroke-width="1.7" fill="none"/>
<rect x="159.3" y="307.5" width="40.2" height="11.2" stroke="#737373" stroke-width="1.8" fill="#fff" rx="5.6"/>
<rect x="200.3" y="307.5" width="39.8" height="11.2" stroke="#737373" stroke-width="1.8" fill="#fff" rx="5.6"/>
<rect x="242" y="307.5" width="39.6" height="11.2" stroke="#737373" stroke-width="1.8" fill="#fff" rx="5.6"/>
<rect x="281.8" y="307.5" width="39.9" height="11.2" stroke="#737373" stroke-width="1.8" fill="#fff" rx="5.6"/>
<path d="M161.8 370.3 V295.2 Q161.8 284.7 172.3 284.7 H197.1 Q207.6 284.7 207.6 295.2 V368.3 Q207.6 370.3 205.6 370.3 H163.8 Q161.8 370.3 161.8 368.3 Z" stroke="#000" stroke-width="1.7" fill="none"/>
<rect x="166.4" y="370.8" width="37.1" height="2.4" stroke="none" stroke-width="0" fill="#666"/>
<line x1="165" y1="318.7" x2="165" y2="370" stroke="#575757" stroke-width="1.4" />
<line x1="194.2" y1="318.7" x2="194.2" y2="505.6" stroke="#575757" stroke-width="1.4" />
<path d="M170 373.5 C163 380 159 392 159 408 C159 426 167 446 176.5 466.5 C179 472.5 182 476.8 186 476.8 C190 476.8 192.5 472.5 195 466.5 C203 450 210 428 210.3 408 C210.5 392 207 380 200.2 373.5" stroke="#000" stroke-width="1.6" fill="none"/>
<path d="M177.3 373.4 V386.4 Q177.6 388.6 179.6 388.6 Q184.9 387.2 190.2 388.6 Q192.4 388.6 192.6 386.4 V373.4" stroke="#e00000" stroke-width="1.45" fill="none" stroke-linejoin="round"/>
<path d="M180.4 373.8 Q181.6 377 180.9 379.8 Q179.8 381.6 180.2 384 Q180.6 386 181.4 386.6 M189.4 373.8 Q188.2 377 188.9 379.8 Q190 381.6 189.6 384 Q189.2 386 188.4 386.6" stroke="#e00000" stroke-width="1.45" fill="none" stroke-linejoin="round"/>
<ellipse cx="184.8" cy="382.7" rx="2.6" ry="1.7" stroke="#e00000" stroke-width="1.45" fill="none" stroke-linejoin="round"/>
<path d="M181.6 388.4 V398.3 M188.3 388.4 V398.3" stroke="#e00000" stroke-width="1.45" fill="none" stroke-linejoin="round"/>
<rect x="180.0" y="397.8" width="9.2" height="2.8" fill="#e00000"/>
<path d="M180.2 400.4 L177.3 414 H192.5 L189 400.4" stroke="#e00000" stroke-width="1.45" fill="none" stroke-linejoin="round"/>
<path d="M178.4 388.4 L169.9 409.6 L177.5 413.8 M191.4 388.4 L200.0 409.6 L192.3 413.8" stroke="#e00000" stroke-width="1.45" fill="none" stroke-linejoin="round"/>
<circle cx="178.7" cy="416.4" r="1.7" stroke="#e00000" stroke-width="1.45" fill="none" stroke-linejoin="round"/><circle cx="191.1" cy="416.4" r="1.7" stroke="#e00000" stroke-width="1.45" fill="none" stroke-linejoin="round"/>
<line x1="24.2" y1="223.2" x2="180.5" y2="223.2" stroke="#dc16dc" stroke-width="1.7" />
<line x1="111.2" y1="209.8" x2="111.2" y2="227.2" stroke="#dc16dc" stroke-width="1.7" />
<line x1="140.2" y1="209.8" x2="140.2" y2="227.2" stroke="#dc16dc" stroke-width="1.7" />
<polygon points="110.8,223.2 90.8,226.6 90.8,219.8" fill="#dc16dc"/>
<polygon points="140.6,223.2 160.6,219.8 160.6,226.6" fill="#dc16dc"/>
<circle cx="111.2" cy="223.2" r="1.4" fill="#000"/>
<line x1="89" y1="232.6" x2="89" y2="462.3" stroke="#dc16dc" stroke-width="1.7" />
<line x1="76.2" y1="232.6" x2="105.3" y2="232.6" stroke="#dc16dc" stroke-width="1.7" />
<line x1="76.2" y1="462.3" x2="105.3" y2="462.3" stroke="#dc16dc" stroke-width="1.7" />
<polygon points="89,233 92.4,253 85.6,253" fill="#dc16dc"/>
<polygon points="89,461.9 85.6,441.9 92.4,441.9" fill="#dc16dc"/>
<circle cx="89" cy="462.3" r="1.4" fill="#000"/>
<line x1="359" y1="60.6" x2="359" y2="635" stroke="#dc16dc" stroke-width="1.7" />
<line x1="321.2" y1="60.6" x2="372.5" y2="60.6" stroke="#dc16dc" stroke-width="1.7" />
<line x1="321.2" y1="635" x2="372.5" y2="635" stroke="#dc16dc" stroke-width="1.7" />
<polygon points="359,61 362.4,81 355.6,81" fill="#dc16dc"/>
<polygon points="359,634.6 355.6,614.6 362.4,614.6" fill="#dc16dc"/>
<circle cx="359" cy="635" r="1.4" fill="#000"/>
<line x1="111.2" y1="663.6" x2="319.3" y2="663.6" stroke="#dc16dc" stroke-width="1.7" />
<line x1="111.2" y1="656" x2="111.2" y2="677" stroke="#dc16dc" stroke-width="1.7" />
<line x1="319.3" y1="656" x2="319.3" y2="677" stroke="#dc16dc" stroke-width="1.7" />
<polygon points="111.6,663.6 131.6,660.2 131.6,667" fill="#dc16dc"/>
<polygon points="318.9,663.6 298.9,667 298.9,660.2" fill="#dc16dc"/>
<circle cx="111.2" cy="663.6" r="1.3" fill="#000"/>
<circle cx="319.3" cy="663.6" r="1.3" fill="#000"/>
<circle cx="111.2" cy="650" r="1.4" fill="#000"/>
<circle cx="319.3" cy="650" r="1.4" fill="#000"/>
<line x1="53.8" y1="597" x2="96.8" y2="650.7" stroke="#dc16dc" stroke-width="1.7" />
<line x1="62" y1="590.44" x2="45.6" y2="603.56" stroke="#dc16dc" stroke-width="1.7" />
<line x1="105" y1="644.14" x2="88.6" y2="657.26" stroke="#dc16dc" stroke-width="1.7" />
<polygon points="54.11,597.39 69.27,610.88 63.96,615.13" fill="#dc16dc"/>
<polygon points="96.49,650.31 81.33,636.82 86.64,632.57" fill="#dc16dc"/>
<rect x="477.9" y="280.8" width="28.7" height="215.3" stroke="#000" stroke-width="1.7" fill="none"/>
<path d="M506.6 245.7 L536.33 248.82 L564.76 258.06 L590.65 273.01 L612.87 293.01 L630.44 317.2 L642.6 344.51 L648.82 373.75 L648.82 403.65 L642.6 432.89 L630.44 460.2 L612.87 484.39 L590.65 504.39 L564.76 519.34 L536.33 528.58 L506.6 531.7 Z" stroke="#000" stroke-width="1.8" fill="none"/>
<path d="M510.8 250.54 L535.42 253.13 L562.97 262.08 L588.07 276.57 L609.6 295.96 L626.63 319.4 L638.42 345.87 L644.44 374.21 L644.44 403.19 L638.42 431.53 L626.63 458 L609.6 481.44 L588.07 500.83 L562.97 515.32 L535.42 524.27 L510.8 526.86 Z" stroke="#000" stroke-width="1.8" fill="none"/>
<circle cx="539.4" cy="230.4" r="17.85" stroke="#000" stroke-width="1.75" fill="none"/>
<circle cx="539.4" cy="230.4" r="15.45" stroke="#000" stroke-width="1.65" fill="none"/>
<circle cx="585.2" cy="247.3" r="17.85" stroke="#000" stroke-width="1.75" fill="none"/>
<circle cx="585.2" cy="247.3" r="15.45" stroke="#000" stroke-width="1.65" fill="none"/>
<circle cx="623.8" cy="277.3" r="17.85" stroke="#000" stroke-width="1.75" fill="none"/>
<circle cx="623.8" cy="277.3" r="15.45" stroke="#000" stroke-width="1.65" fill="none"/>
<circle cx="651.7" cy="317.5" r="17.85" stroke="#000" stroke-width="1.75" fill="none"/>
<circle cx="651.7" cy="317.5" r="15.45" stroke="#000" stroke-width="1.65" fill="none"/>
<circle cx="666.2" cy="364.2" r="17.85" stroke="#000" stroke-width="1.75" fill="none"/>
<circle cx="666.2" cy="364.2" r="15.45" stroke="#000" stroke-width="1.65" fill="none"/>
<circle cx="666.2" cy="413" r="17.85" stroke="#000" stroke-width="1.75" fill="none"/>
<circle cx="666.2" cy="413" r="15.45" stroke="#000" stroke-width="1.65" fill="none"/>
<circle cx="651.7" cy="459.8" r="17.85" stroke="#000" stroke-width="1.75" fill="none"/>
<circle cx="651.7" cy="459.8" r="15.45" stroke="#000" stroke-width="1.65" fill="none"/>
<circle cx="623.8" cy="500" r="17.85" stroke="#000" stroke-width="1.75" fill="none"/>
<circle cx="623.8" cy="500" r="15.45" stroke="#000" stroke-width="1.65" fill="none"/>
<circle cx="585.2" cy="530" r="17.85" stroke="#000" stroke-width="1.75" fill="none"/>
<circle cx="585.2" cy="530" r="15.45" stroke="#000" stroke-width="1.65" fill="none"/>
<circle cx="538.8" cy="543.5" r="17.85" stroke="#000" stroke-width="1.75" fill="none"/>
<circle cx="538.8" cy="543.5" r="15.45" stroke="#000" stroke-width="1.65" fill="none"/>
<circle cx="555.2" cy="324" r="25.2" stroke="#000" stroke-width="1.7" fill="none"/>
<path d="M510.8 315.1 H567.3 V332.9 H510.8" stroke="#000" stroke-width="1.7" fill="none"/>
<circle cx="555.2" cy="324" r="5" stroke="#000" stroke-width="1.4" fill="none"/>
<circle cx="555.2" cy="452.9" r="25.2" stroke="#000" stroke-width="1.7" fill="none"/>
<path d="M510.8 444 H567.3 V461.8 H510.8" stroke="#000" stroke-width="1.7" fill="none"/>
<circle cx="555.2" cy="452.9" r="5" stroke="#000" stroke-width="1.4" fill="none"/>
<line x1="530.5" y1="213.6" x2="539.2" y2="230.2" stroke="#000" stroke-width="1.3" />
<text x="0" y="0" transform="translate(537 221) rotate(62)" font-family="Liberation Sans, sans-serif" font-size="5" fill="#888">ø8</text>
<line x1="477.5" y1="602.4" x2="686.4" y2="602.4" stroke="#dc16dc" stroke-width="1.7" />
<polygon points="478,602.4 498,599 498,605.8" fill="#dc16dc"/>
<polygon points="685.9,602.4 665.9,605.8 665.9,599" fill="#dc16dc"/>
<circle cx="477.5" cy="602.4" r="1.4" fill="#000"/>
<circle cx="686.4" cy="602.4" r="1.4" fill="#000"/>
<line x1="477.5" y1="608" x2="477.5" y2="615" stroke="#dc16dc" stroke-width="1.7" />
<line x1="686.4" y1="608" x2="686.4" y2="615" stroke="#dc16dc" stroke-width="1.7" />
<line x1="352.3" y1="695.5" x2="353.2" y2="698.5" stroke="#444" stroke-width="0.8" />
<text x="31" y="216.9" font-size="33" letter-spacing="-0.7" font-family="Liberation Serif, serif" font-style="italic" fill="#000">20</text>
<text x="191.8" y="657.6" font-size="33" letter-spacing="-1.6" font-family="Liberation Serif, serif" font-style="italic" fill="#000">145</text>
<text x="558.6" y="597" font-size="33" letter-spacing="-1.6" font-family="Liberation Serif, serif" font-style="italic" fill="#000">145</text>
<text transform="translate(84.2 371.2) rotate(-90)" font-size="33" letter-spacing="-1.8" font-family="Liberation Serif, serif" font-style="italic" fill="#000">160</text>
<text transform="translate(353.5 371.2) rotate(-90)" font-size="33" letter-spacing="-1.5" font-family="Liberation Serif, serif" font-style="italic" fill="#000">400</text>
<text transform="translate(68.5 600.5) rotate(47)" font-size="30" letter-spacing="1.8" font-family="Liberation Serif, serif" font-style="italic" fill="#000">245</text>
</svg></body></html>
